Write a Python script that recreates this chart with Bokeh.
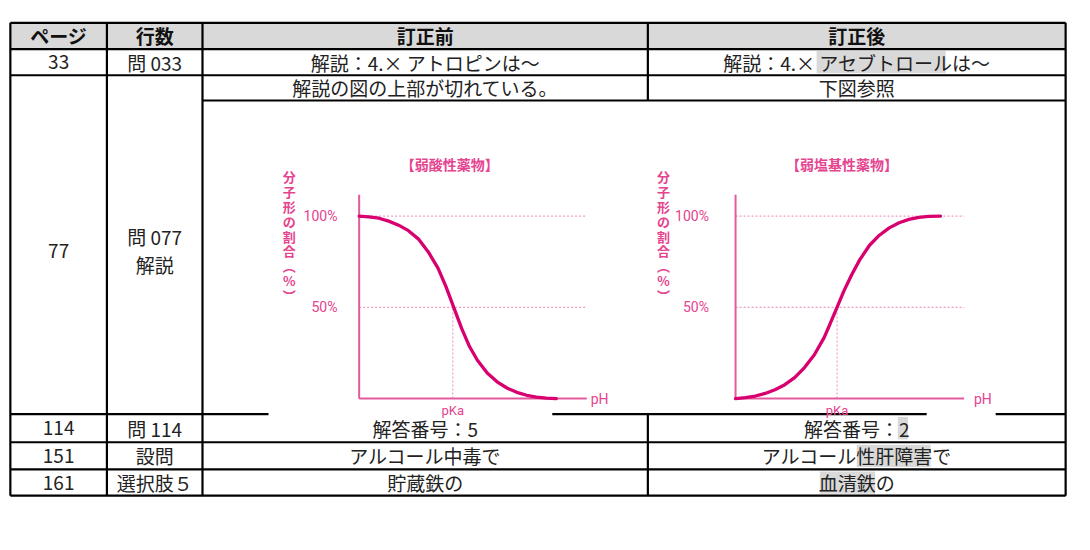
from bokeh.plotting import figure
from bokeh.models import Range1d
from bokeh.core.properties import value
from bokeh.embed import file_html
from bokeh.resources import INLINE

# ---------------- table content ----------------
headers = ["ページ", "行数", "訂正前", "訂正後"]
pages = ["33", "77", "114", "151", "161"]
rows_label = ["問 033", "問 077", "問 114", "設問", "選択肢５"]
before = ["解説：4.× アトロピンは〜", "解説の図の上部が切れている。", "解答番号：5", "アルコール中毒で", "貯蔵鉄の"]
# corrected text split as (prefix, highlighted, suffix)
after_parts = [("解説：4.× ", "アセブトロール", "は〜"),
               ("下図参照", "", ""),
               ("解答番号：", "2", ""),
               ("アルコール", "性肝障害", "で"),
               ("", "血清鉄", "の")]
sub_label = "解説"

# ---------------- chart data ----------------
acid_title = "【弱酸性薬物】"
base_title = "【弱塩基性薬物】"
ylabel_chars = "分\n子\n形\nの\n割\n合\n︵\n%\n︶"
pct_ticks = [100, 50]
pct_labels = ["100%", "50%"]

acid_ph = [0, 0.5, 1.0, 1.5, 2.0, 2.5, 3.0, 3.5, 4.0, 4.4, 4.8, 5.2, 5.6, 6.0, 6.5, 7.0, 7.5, 8.0, 8.5, 9.0, 9.5, 10.0]
acid_pct = [100, 99.6, 98.8, 97.2, 95.0, 92.0, 87.5, 80.5, 71.5, 61.5, 50, 38.5, 28.5, 21, 14, 9.2, 5.8, 3.4, 1.8, 0.8, 0.2, 0]
acid_pka = 4.75

base_ph = [0, 0.5, 1.0, 1.5, 2.0, 2.5, 3.0, 3.5, 4.0, 4.5, 4.8, 5.15, 5.5, 5.9, 6.3, 6.8, 7.3, 7.8, 8.3, 8.8, 9.3, 9.8, 10.4]
base_pct = [0, 0.5, 1.4, 2.8, 4.8, 7.6, 11.5, 17, 24, 33.5, 41, 50, 59, 68, 76, 84, 89.5, 93.5, 96.3, 98.2, 99.3, 99.8, 100]
base_pka = 5.15

# ---------------- layout (reference pixel coordinates) ----------------
W, H = 1074, 534
REF_W, REF_H = 1090, 550
col_edges = [10, 108, 205, 657, 1081]
row_edges = [23, 50, 77, 103, 426, 455, 483, 510]
FS = 19
JP = value("Noto Sans CJK JP")
LAT = value("Roboto")
PINK_TXT = "#e5448f"
PINK_CURVE = "#d8006f"
PINK_AXIS = "#e35a9e"
PINK_DOT = "#ef9cc5"

p = figure(width=W, height=H, x_range=Range1d(0, REF_W), y_range=Range1d(REF_H, 0),
           output_backend="svg", toolbar_location=None, min_border=0,
           x_axis_type=None, y_axis_type=None)
p.outline_line_color = None
p.background_fill_color = "white"
p.border_fill_color = "white"


def em_width(s):
    w = 0.0
    for ch in s:
        o = ord(ch)
        if o >= 0x2E80 or ch in "〜：":
            w += 1.0
        elif ch.isdigit():
            w += 0.553
        elif ch == ".":
            w += 0.27
        elif ch == " ":
            w += 0.224
        else:
            w += 0.6
    return w * FS * W / REF_W


cx = [(col_edges[i] + col_edges[i + 1]) / 2 for i in range(4)]
ry = [(row_edges[i] + row_edges[i + 1]) / 2 for i in range(7)]

# header background
p.quad(left=col_edges[0], right=col_edges[-1], top=row_edges[0], bottom=row_edges[1],
       fill_color="#d9d9d9", line_color=None)

# highlights in corrected column
row_y_after = [ry[1], ry[2], ry[4], ry[5], ry[6]]
hl_l, hl_r, hl_t, hl_b = [], [], [], []
for (pre, hl, suf), yy in zip(after_parts, row_y_after):
    if not hl:
        continue
    total = em_width(pre + hl + suf)
    start = cx[3] - total / 2 + em_width(pre)
    hl_l.append(start)
    hl_r.append(start + em_width(hl))
    hl_t.append(yy - 11.5)
    hl_b.append(yy + 11.5)
p.quad(left=hl_l, right=hl_r, top=hl_t, bottom=hl_b, fill_color="#d9d9d9", line_color=None)

# table lines
sx0, sy0, sx1, sy1 = [], [], [], []
for i, x in enumerate(col_edges):
    if i == 3:
        sx0 += [x, x]; sx1 += [x, x]
        sy0 += [row_edges[0], row_edges[4]]; sy1 += [row_edges[3], row_edges[-1]]
    else:
        sx0.append(x); sx1.append(x); sy0.append(row_edges[0]); sy1.append(row_edges[-1])
for j, y in enumerate(row_edges):
    if j == 3:
        sx0.append(col_edges[2]); sx1.append(col_edges[-1]); sy0.append(y); sy1.append(y)
    elif j == 4:
        for a, b in [(col_edges[0], 272), (560, 940), (1010, col_edges[-1])]:
            sx0.append(a); sx1.append(b); sy0.append(y); sy1.append(y)
    else:
        sx0.append(col_edges[0]); sx1.append(col_edges[-1]); sy0.append(y); sy1.append(y)
p.segment(x0=sx0, y0=sy0, x1=sx1, y1=sy1, line_color="black", line_width=2.2)

# white picture area covering the table grid
p.quad(left=272, right=1010, top=104.5, bottom=424.5, fill_color="white", line_color=None)

# ---------------- table texts ----------------
p.text(x=cx, y=[ry[0]] * 4, text=headers, text_align="center", text_baseline="middle",
       text_font=JP, text_font_size=f"{FS}px", text_font_style="bold", text_color="#111111")

data_rows = [1, None, 4, 5, 6]
for k in range(5):
    if k == 1:
        ymid = (row_edges[2] + row_edges[4]) / 2 + 6
        p.text(x=[cx[0]], y=[ymid], text=[pages[k]], text_align="center", text_baseline="middle",
               text_font=JP, text_font_size=f"{FS}px", text_color="#222222")
        p.text(x=[cx[1], cx[1]], y=[ymid - 14, ymid + 14], text=[rows_label[k], sub_label],
               text_align="center", text_baseline="middle",
               text_font=JP, text_font_size=f"{FS}px", text_color="#222222")
        yy = ry[2]
    else:
        yy = ry[data_rows[k]]
        p.text(x=[cx[0], cx[1]], y=[yy, yy], text=[pages[k], rows_label[k]], text_align="center",
               text_baseline="middle", text_font=JP, text_font_size=f"{FS}px", text_color="#222222")
    pre, hl, suf = after_parts[k]
    p.text(x=[cx[2], cx[3]], y=[yy, yy], text=[before[k], pre + hl + suf], text_align="center",
           text_baseline="middle", text_font=JP, text_font_size=f"{FS}px", text_color="#222222")

# ---------------- charts ----------------
charts = [
    dict(name="acid", ox=364, oy=410, sx=20, sy=1.88, xend=11.55, ytop=111.7,
         ph=acid_ph, pct=acid_pct, pka=acid_pka, title=acid_title,
         tick_x=-1.1, ph_x=11.75, title_x=4.6, title_y=128.7, ylab_x=-3.55, ylab_y=89, pka_y=-6.4),
    dict(name="base", ox=746, oy=410, sx=20, sy=1.88, xend=11.6, ytop=111.7,
         ph=base_ph, pct=base_pct, pka=base_pka, title=base_title,
         tick_x=-1.35, ph_x=12.1, title_x=5.4, title_y=128.7, ylab_x=-3.65, ylab_y=89, pka_y=-6.4),
]
for c in charts:
    xr = c["name"] + "_x"
    yr = c["name"] + "_y"
    p.extra_x_ranges[xr] = Range1d((0 - c["ox"]) / c["sx"], (REF_W - c["ox"]) / c["sx"])
    p.extra_y_ranges[yr] = Range1d((c["oy"] - REF_H) / c["sy"], (c["oy"] - 0) / c["sy"])
    kw = dict(x_range_name=xr, y_range_name=yr)
    p.segment(x0=[0, 0, c["pka"]], y0=[100, 50, 0], x1=[c["xend"], c["xend"], c["pka"]], y1=[100, 50, 50],
              line_color=PINK_DOT, line_width=1.2, line_dash="2 2", **kw)
    p.segment(x0=[0, 0], y0=[0, 0], x1=[0, c["xend"]], y1=[c["ytop"], 0],
              line_color=PINK_AXIS, line_width=2, **kw)
    p.line(c["ph"], c["pct"], line_color=PINK_CURVE, line_width=3.3, line_cap="round", **kw)
    p.text(x=[c["tick_x"]] * 2, y=pct_ticks, text=pct_labels, text_align="right", text_baseline="middle",
           text_font=LAT, text_font_size="14px", text_color=PINK_TXT, **kw)
    p.text(x=[c["ph_x"]], y=[0], text=["pH"], text_align="left", text_baseline="middle",
           text_font=LAT, text_font_size="14px", text_color=PINK_TXT, **kw)
    p.text(x=[c["pka"]], y=[c["pka_y"]], text=["pKa"], text_align="center", text_baseline="middle",
           text_font=LAT, text_font_size="13px", text_color=PINK_TXT, **kw)
    p.text(x=[c["title_x"]], y=[c["title_y"]], text=[c["title"]], text_align="center", text_baseline="middle",
           text_font=JP, text_font_size="14px", text_font_style="bold", text_color=PINK_TXT, **kw)
    p.text(x=[c["ylab_x"]], y=[c["ylab_y"]], text=[ylabel_chars], text_align="center", text_baseline="middle",
           text_font=JP, text_font_size="13px", text_font_style="bold", text_line_height=0.78,
           text_color=PINK_TXT, **kw)

open("out.html", "w").write(file_html(p, INLINE))
